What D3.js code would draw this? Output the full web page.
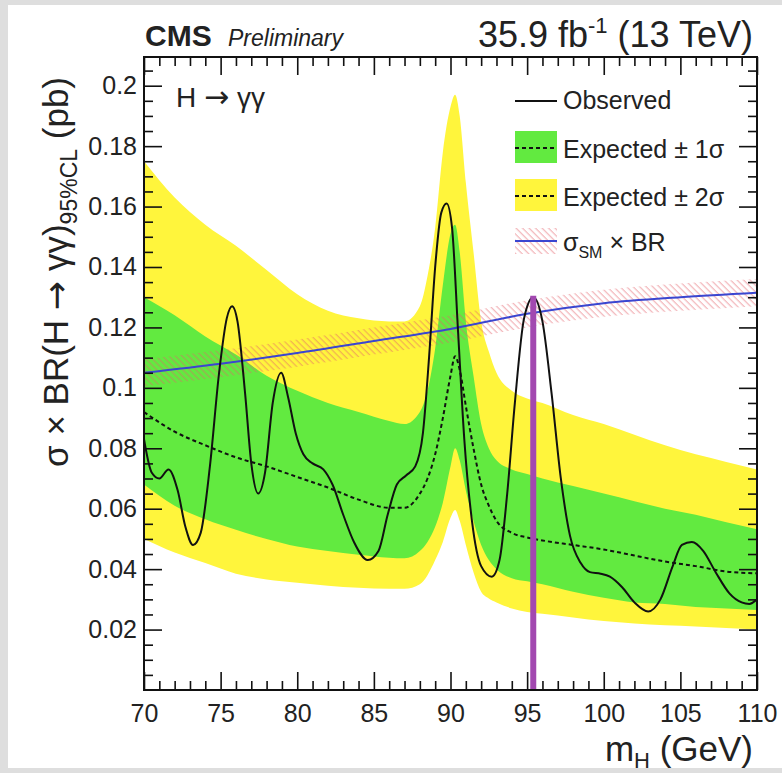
<!DOCTYPE html>
<html>
<head>
<meta charset="utf-8">
<script src="https://cdn.jsdelivr.net/npm/d3@7"></script>
<style>
  html, body { margin: 0; padding: 0; background: #ffffff; }
  svg { display: block; }
  text { font-family: "Liberation Sans", Arial, Helvetica, sans-serif; fill: #222; }
  .arr { font-family: "DejaVu Sans", sans-serif; }
</style>
</head>
<body>
<div id="chart"></div>
<script>
// ---------------- DATA ----------------
const bandMass = [70, 72, 74, 76, 78, 80, 82, 84, 86, 87, 88, 88.5, 89, 89.5, 90, 90.3, 90.6, 91, 91.5, 92, 92.5, 93, 94, 95, 96, 98, 100, 102, 104, 106, 108, 110];
const expected = [0.092, 0.0855, 0.081, 0.077, 0.074, 0.0705, 0.067, 0.063, 0.0603, 0.0603, 0.065, 0.070, 0.078, 0.090, 0.104, 0.1105, 0.106, 0.094, 0.080, 0.068, 0.061, 0.056, 0.052, 0.0505, 0.0495, 0.048, 0.0465, 0.0445, 0.0425, 0.041, 0.0392, 0.0386];
const oneSigmaUp = [0.130, 0.124, 0.117, 0.111, 0.104, 0.099, 0.095, 0.092, 0.089, 0.088, 0.092, 0.099, 0.113, 0.134, 0.151, 0.154, 0.145, 0.122, 0.104, 0.088, 0.080, 0.076, 0.073, 0.0715, 0.070, 0.0675, 0.065, 0.0625, 0.060, 0.058, 0.0555, 0.0532];
const oneSigmaDown = [0.068, 0.061, 0.0565, 0.053, 0.050, 0.0475, 0.046, 0.0448, 0.0438, 0.0436, 0.046, 0.049, 0.054, 0.062, 0.074, 0.080, 0.076, 0.066, 0.056, 0.048, 0.043, 0.040, 0.037, 0.036, 0.035, 0.0325, 0.0305, 0.029, 0.0285, 0.0275, 0.027, 0.0265];
const twoSigmaUp = [0.175, 0.163, 0.154, 0.147, 0.139, 0.131, 0.1255, 0.123, 0.122, 0.122, 0.127, 0.137, 0.153, 0.178, 0.193, 0.197, 0.190, 0.168, 0.145, 0.122, 0.112, 0.105, 0.099, 0.0965, 0.095, 0.091, 0.088, 0.0845, 0.081, 0.078, 0.0755, 0.073];
const twoSigmaDown = [0.050, 0.0455, 0.042, 0.0385, 0.0366, 0.0355, 0.0345, 0.0338, 0.0335, 0.0335, 0.035, 0.038, 0.043, 0.049, 0.057, 0.0596, 0.056, 0.048, 0.039, 0.0325, 0.0303, 0.029, 0.027, 0.0258, 0.0252, 0.024, 0.0228, 0.022, 0.0214, 0.021, 0.0205, 0.020];

const obsMass = [70.0, 70.5, 71.0, 71.6, 72.2, 72.7, 73.2, 73.7, 74.3, 74.9, 75.4, 75.75, 76.1, 76.6, 77.0, 77.45, 77.9, 78.4, 78.95, 79.4, 79.9, 80.4, 81.0, 81.7, 82.3, 83.0, 83.7, 84.6, 85.3, 85.9, 86.5, 87.1, 87.7, 88.2, 88.6, 89.0, 89.4, 89.75, 90.1, 90.5, 90.9, 91.4, 92.0, 92.7, 93.2, 93.7, 94.2, 94.8, 95.4, 96.0, 96.6, 97.2, 97.8, 98.5, 99.1, 99.8, 100.4, 101.2, 102.0, 102.9, 103.7, 104.5, 105.1, 105.75, 106.5, 107.3, 108.2, 109.0, 109.5, 110.0];
const observed = [0.083, 0.072, 0.070, 0.073, 0.066, 0.054, 0.048, 0.052, 0.074, 0.105, 0.123, 0.127, 0.122, 0.098, 0.075, 0.065, 0.072, 0.095, 0.105, 0.097, 0.085, 0.078, 0.075, 0.073, 0.068, 0.058, 0.049, 0.043, 0.046, 0.058, 0.068, 0.071, 0.074, 0.085, 0.110, 0.140, 0.158, 0.161, 0.153, 0.118, 0.083, 0.056, 0.041, 0.0375, 0.043, 0.065, 0.095, 0.123, 0.130, 0.122, 0.098, 0.070, 0.051, 0.042, 0.039, 0.0385, 0.0375, 0.034, 0.029, 0.026, 0.030, 0.041, 0.048, 0.049, 0.046, 0.039, 0.032, 0.029, 0.0285, 0.030];

const smMass = [70, 75, 80, 85, 90, 95, 100, 105, 110];
const smXsec = [0.105, 0.108, 0.1115, 0.1155, 0.1195, 0.1245, 0.128, 0.130, 0.1315];
const smUncertainty = 0.0045;

const excessMass = 95.4;
const excessTop = 0.1305;

const xMajorTicks = [70, 75, 80, 85, 90, 95, 100, 105, 110];
const yMajorTicks = [0.02, 0.04, 0.06, 0.08, 0.1, 0.12, 0.14, 0.16, 0.18, 0.2];
const yTickLabels = ["0.02", "0.04", "0.06", "0.08", "0.1", "0.12", "0.14", "0.16", "0.18", "0.2"];

// ---------------- CHART ----------------
const W = 782, H = 773;
const svg = d3.select("#chart").append("svg").attr("width", W).attr("height", H);

// screenshot border (light gray)
svg.append("rect").attr("x", 0).attr("y", 0).attr("width", W).attr("height", H).attr("fill", "#dedede");
svg.append("rect").attr("x", 8).attr("y", 5).attr("width", W - 8).attr("height", 763).attr("fill", "#ffffff");

const x = d3.scaleLinear().domain([70, 110]).range([144, 757]);
const y = d3.scaleLinear().domain([0, 0.2095]).range([690, 57]);

const defs = svg.append("defs");
defs.append("clipPath").attr("id", "plotclip")
  .append("rect").attr("x", 144).attr("y", 57).attr("width", 613).attr("height", 633);

const hatch = defs.append("pattern").attr("id", "hatch")
  .attr("patternUnits", "userSpaceOnUse").attr("width", 4.6).attr("height", 4.6)
  .attr("patternTransform", "rotate(-45)");
hatch.append("line").attr("x1", 1.2).attr("y1", 0).attr("x2", 1.2).attr("y2", 4.6)
  .attr("stroke", "rgba(228,95,105,0.5)").attr("stroke-width", 1.15);

const plot = svg.append("g").attr("clip-path", "url(#plotclip)");

const bandRows = bandMass.map((m, i) => ({
  m, exp: expected[i], u1: oneSigmaUp[i], d1: oneSigmaDown[i], u2: twoSigmaUp[i], d2: twoSigmaDown[i]
}));

const yellow = "#fff53c", green = "#62ea40";

plot.append("path").datum(bandRows)
  .attr("fill", yellow)
  .attr("d", d3.area().curve(d3.curveMonotoneX).x(d => x(d.m)).y0(d => y(d.d2)).y1(d => y(d.u2)));
plot.append("path").datum(bandRows)
  .attr("fill", green)
  .attr("d", d3.area().curve(d3.curveMonotoneX).x(d => x(d.m)).y0(d => y(d.d1)).y1(d => y(d.u1)));

const smRows = smMass.map((m, i) => ({ m, v: smXsec[i] }));
plot.append("path").datum(smRows)
  .attr("fill", "url(#hatch)")
  .attr("d", d3.area().curve(d3.curveMonotoneX).x(d => x(d.m))
    .y0(d => y(d.v - smUncertainty)).y1(d => y(d.v + smUncertainty)));
plot.append("path").datum(smRows)
  .attr("fill", "none").attr("stroke", "#3a46d0").attr("stroke-width", 2)
  .attr("d", d3.line().curve(d3.curveMonotoneX).x(d => x(d.m)).y(d => y(d.v)));

plot.append("path").datum(bandRows)
  .attr("fill", "none").attr("stroke", "#111").attr("stroke-width", 2).attr("stroke-dasharray", "4,3")
  .attr("d", d3.line().curve(d3.curveMonotoneX).x(d => x(d.m)).y(d => y(d.exp)));

const obsRows = obsMass.map((m, i) => ({ m, v: observed[i] }));
plot.append("path").datum(obsRows)
  .attr("fill", "none").attr("stroke", "#111").attr("stroke-width", 2)
  .attr("d", d3.line().curve(d3.curveMonotoneX).x(d => x(d.m)).y(d => y(d.v)));

plot.append("line")
  .attr("x1", x(excessMass)).attr("x2", x(excessMass))
  .attr("y1", y(0)).attr("y2", y(excessTop))
  .attr("stroke", "#a248b0").attr("stroke-width", 6);

// ---------------- AXES ----------------
const xMinor = d3.range(70, 111, 1).filter(v => v % 5 !== 0);
const yMinor = d3.range(0.005, 0.2095, 0.005).filter(v => Math.abs(Math.round(v * 50) - v * 50) > 1e-6);

function styleAxis(g) {
  g.select(".domain").remove();
  g.selectAll(".tick line").attr("stroke", "#111").attr("stroke-width", 1.6);
  g.selectAll(".tick text").attr("fill", "#222").style("font-size", "25px")
    .style("font-family", '"Liberation Sans", Arial, sans-serif');
}

// bottom
svg.append("g").attr("transform", "translate(0,690)")
  .call(d3.axisBottom(x).tickValues(xMajorTicks).tickSizeInner(-18).tickSizeOuter(0).tickPadding(14).tickFormat(d3.format("d")))
  .call(styleAxis);
svg.append("g").attr("transform", "translate(0,690)")
  .call(d3.axisBottom(x).tickValues(xMinor).tickSizeInner(-9).tickSizeOuter(0).tickFormat(""))
  .call(styleAxis);
// top
svg.append("g").attr("transform", "translate(0,57)")
  .call(d3.axisTop(x).tickValues(xMajorTicks).tickSizeInner(-18).tickSizeOuter(0).tickFormat(""))
  .call(styleAxis);
svg.append("g").attr("transform", "translate(0,57)")
  .call(d3.axisTop(x).tickValues(xMinor).tickSizeInner(-9).tickSizeOuter(0).tickFormat(""))
  .call(styleAxis);
// left
svg.append("g").attr("transform", "translate(144,0)")
  .call(d3.axisLeft(y).tickValues(yMajorTicks).tickSizeInner(-18).tickSizeOuter(0).tickPadding(7)
    .tickFormat((d, i) => yTickLabels[i]))
  .call(styleAxis);
svg.append("g").attr("transform", "translate(144,0)")
  .call(d3.axisLeft(y).tickValues(yMinor).tickSizeInner(-9).tickSizeOuter(0).tickFormat(""))
  .call(styleAxis);
// right
svg.append("g").attr("transform", "translate(757,0)")
  .call(d3.axisRight(y).tickValues(yMajorTicks).tickSizeInner(-18).tickSizeOuter(0).tickFormat(""))
  .call(styleAxis);
svg.append("g").attr("transform", "translate(757,0)")
  .call(d3.axisRight(y).tickValues(yMinor).tickSizeInner(-9).tickSizeOuter(0).tickFormat(""))
  .call(styleAxis);

// frame
svg.append("rect").attr("x", 144).attr("y", 57).attr("width", 613).attr("height", 633)
  .attr("fill", "none").attr("stroke", "#111").attr("stroke-width", 2);

// ---------------- TEXT ----------------
svg.append("text").attr("x", 145).attr("y", 46).style("font-size", "30px").style("font-weight", "bold").text("CMS");
svg.append("text").attr("x", 228).attr("y", 46).style("font-size", "23px").style("font-style", "italic").text("Preliminary");

const lumi = svg.append("text").attr("x", 753).attr("y", 47).attr("text-anchor", "end").style("font-size", "36px");
lumi.append("tspan").text("35.9 fb");
lumi.append("tspan").attr("dy", -14).style("font-size", "22px").text("-1");
lumi.append("tspan").attr("dy", 14).text(" (13 TeV)");

const hl = svg.append("text").attr("x", 176).attr("y", 107).style("font-size", "28px");
hl.append("tspan").text("H ");
hl.append("tspan").attr("class", "arr").style("font-size", "30px").text("\u2192");
hl.append("tspan").text(" \u03b3\u03b3");

// y axis title
const yt = svg.append("text").attr("transform", "translate(68,77) rotate(-90)")
  .attr("text-anchor", "end").style("font-size", "35px");
yt.append("tspan").text("\u03c3 \u00d7 BR(H ");
yt.append("tspan").attr("class", "arr").style("font-size", "35px").text("\u2192");
yt.append("tspan").text(" \u03b3\u03b3)");
yt.append("tspan").attr("dy", 9).style("font-size", "23px").text("95%CL");
yt.append("tspan").attr("dy", -9).text(" (pb)");

// x axis title
const xt = svg.append("text").attr("x", 753).attr("y", 761).attr("text-anchor", "end").style("font-size", "35px");
xt.append("tspan").text("m");
xt.append("tspan").attr("dy", 7).style("font-size", "22px").text("H");
xt.append("tspan").attr("dy", -7).text(" (GeV)");

// ---------------- LEGEND ----------------
const lg = svg.append("g");
const lx = 515, lw = 42, tx = 563;
lg.append("line").attr("x1", lx).attr("x2", lx + lw).attr("y1", 101).attr("y2", 101)
  .attr("stroke", "#111").attr("stroke-width", 2);
lg.append("text").attr("x", tx).attr("y", 109).style("font-size", "25px").text("Observed");

lg.append("rect").attr("x", lx).attr("y", 131).attr("width", lw).attr("height", 32).attr("fill", green);
lg.append("line").attr("x1", lx).attr("x2", lx + lw).attr("y1", 148).attr("y2", 148)
  .attr("stroke", "#111").attr("stroke-width", 2).attr("stroke-dasharray", "4,3");
lg.append("text").attr("x", tx).attr("y", 158).style("font-size", "25px").text("Expected \u00b1 1\u03c3");

lg.append("rect").attr("x", lx).attr("y", 179).attr("width", lw).attr("height", 32).attr("fill", yellow);
lg.append("line").attr("x1", lx).attr("x2", lx + lw).attr("y1", 196).attr("y2", 196)
  .attr("stroke", "#111").attr("stroke-width", 2).attr("stroke-dasharray", "4,3");
lg.append("text").attr("x", tx).attr("y", 206).style("font-size", "25px").text("Expected \u00b1 2\u03c3");

lg.append("rect").attr("x", lx).attr("y", 228).attr("width", lw).attr("height", 26).attr("fill", "url(#hatch)");
lg.append("line").attr("x1", lx).attr("x2", lx + lw).attr("y1", 241).attr("y2", 241)
  .attr("stroke", "#3a46d0").attr("stroke-width", 2);
const smt = lg.append("text").attr("x", tx).attr("y", 251).style("font-size", "25px");
smt.append("tspan").text("\u03c3");
smt.append("tspan").attr("dy", 7).style("font-size", "16px").text("SM");
smt.append("tspan").attr("dy", -7).text(" \u00d7 BR");
</script>
</body>
</html>
